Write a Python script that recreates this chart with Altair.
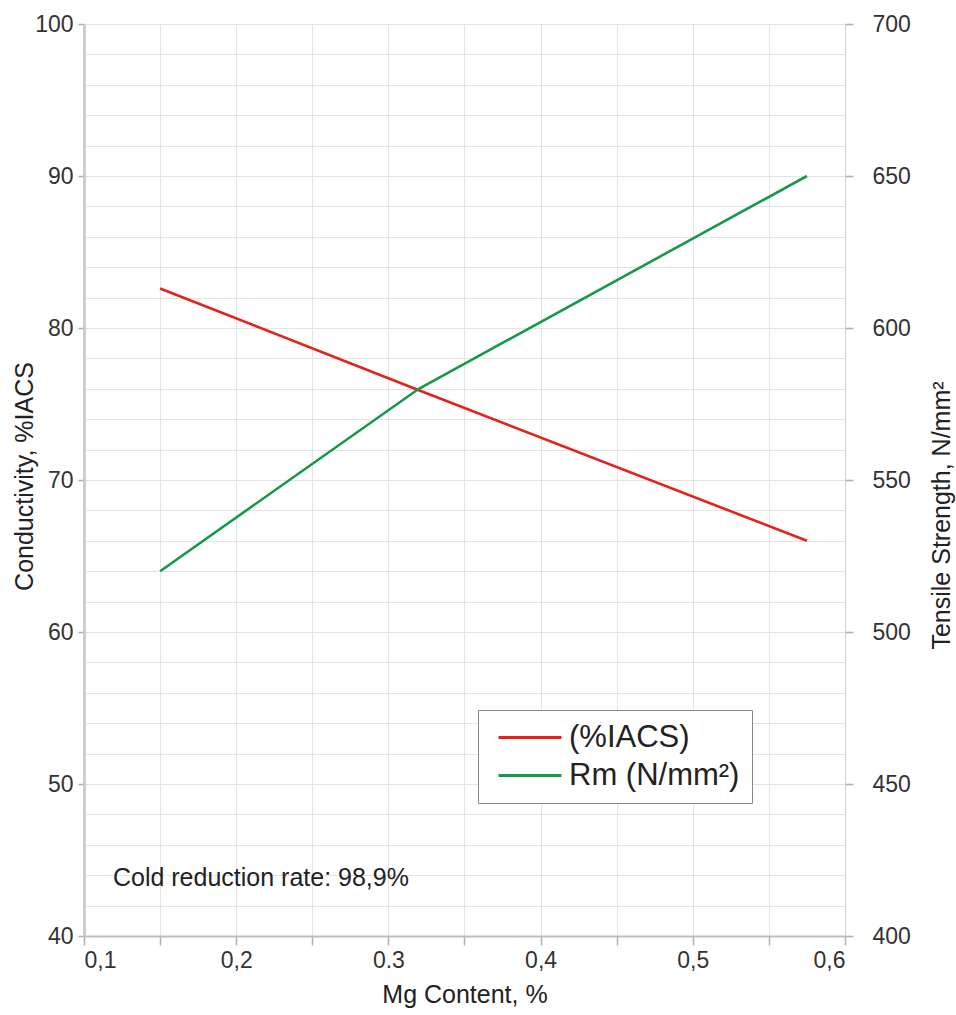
import altair as alt
import pandas as pd

# ---- data ----
mg_content = [0.15, 0.32, 0.575]
conductivity = [82.6, 75.9, 66.0]          # %IACS (left axis)
tensile = [520, 580, 650]                  # N/mm2 (right axis)
series_names = ["\u00a0\u00a0(%IACS)", "Rm (N/mm²)"]
series_colors = ["#e3231b", "#17994b"]

x_tick_values = [0.1, 0.15, 0.2, 0.25, 0.3, 0.35, 0.4, 0.45, 0.5, 0.55, 0.6]
x_label_values = [0.1, 0.2, 0.3, 0.4, 0.5, 0.6]
x_label_texts = ["0,1", "0,2", "0.3", "0,4", "0,5", "0,6"]
left_grid_values = list(range(40, 101, 2))
right_tick_values = [400, 450, 500, 550, 600, 650, 700]

note_text = ["Cold reduction rate: 98,9%"]
note_x = [0.119]
note_y = [43.8]

FONT = "Liberation Sans"
W, H = 761, 912

df_c = pd.DataFrame({"mg": mg_content, "val": conductivity, "series": series_names[0]})
df_t = pd.DataFrame({"mg": mg_content, "val": tensile, "series": series_names[1]})
df_note = pd.DataFrame({"mg": note_x, "val": note_y, "t": note_text})

label_expr = " : ".join(
    f"abs(datum.value - {v}) < 1e-6 ? '{t}'" for v, t in zip(x_label_values, x_label_texts)
) + " : ''"

x_scale = alt.Scale(domain=[0.1, 0.6], nice=False, zero=False)
x_axis = alt.Axis(
    title="Mg Content, %",
    values=x_tick_values,
    labelExpr=label_expr,
    grid=True,
    gridColor="#e4e4e4",
    gridWidth=1,
    domainColor="#bdbdbd",
    domainWidth=2,
    tickColor="#b0b0b0",
    tickSize=9,
    tickWidth=1.5,
    labelPadding=4,
    labelFontSize=23,
    labelColor="#333333",
    labelFont=FONT,
    titleFont=FONT,
    titleFontSize=25,
    titleFontWeight="normal",
    titleColor="#222222",
    titlePadding=10,
    labelOverlap=False,
)
x_enc = alt.X("mg:Q", scale=x_scale, axis=x_axis)

y_left_scale = alt.Scale(domain=[40, 100], nice=False, zero=False)
y_left_axis = alt.Axis(
    title="Conductivity, %IACS",
    values=left_grid_values,
    labelExpr="datum.value % 10 === 0 ? datum.label : ''",
    grid=True,
    gridColor="#e4e4e4",
    gridWidth=1,
    domainColor="#cdcdcd",
    domainWidth=3,
    tickColor="#b0b0b0",
    tickSize=6,
    tickWidth=1.5,
    tickOpacity={"condition": {"test": "datum.value % 10 === 0", "value": 1}, "value": 0},
    labelPadding=5,
    labelFontSize=23,
    labelFont=FONT,
    labelColor="#333333",
    titleFont=FONT,
    titleFontSize=25,
    titleFontWeight="normal",
    titleColor="#222222",
    titleAngle=270,
    titleX=-60,
    titleY=452,
    titleAlign="center",
    titleBaseline="middle",
    labelOverlap=False,
)
y_left_enc = alt.Y("val:Q", scale=y_left_scale, axis=y_left_axis)

color_enc = alt.Color(
    "series:N",
    scale=alt.Scale(domain=series_names, range=series_colors),
    legend=alt.Legend(
        title=None,
        orient="none",
        legendX=394,
        legendY=686,
        symbolType="M-0.5,0L4,0",
        symbolSize=784,
        symbolStrokeWidth=3,
        labelFontSize=31,
        labelFont=FONT,
        labelColor="#222222",
        labelOffset=48,
        labelLimit=400,
        rowPadding=6,
        padding=12,
        strokeColor="#8a8a8a",
        fillColor="white",
    ),
)

left_line = alt.Chart(df_c).mark_line(strokeWidth=2.6).encode(
    x=x_enc,
    y=y_left_enc,
    color=color_enc,
)

note = alt.Chart(df_note).mark_text(
    align="left", baseline="middle", fontSize=25, font=FONT, color="#222222"
).encode(
    x=x_enc,
    y=y_left_enc,
    text="t:N",
)

left_layer = alt.layer(left_line, note)

right_line = alt.Chart(df_t).mark_line(strokeWidth=2.6).encode(
    x=x_enc,
    y=alt.Y(
        "val:Q",
        scale=alt.Scale(domain=[400, 700], nice=False, zero=False),
        axis=alt.Axis(
            title="Tensile Strength, N/mm²",
            orient="right",
            values=right_tick_values,
            grid=False,
            ticks=True,
            domainColor="#d0d0d0",
            domainWidth=1,
            tickColor="#b0b0b0",
            tickSize=8,
            tickWidth=1.5,
            labelPadding=19,
            labelFontSize=23,
            labelFont=FONT,
            labelColor="#333333",
            labelAlign="left",
            titleFont=FONT,
            titleFontSize=25,
            titleFontWeight="normal",
            titleColor="#222222",
            titleAngle=270,
            titleX=96,
            titleY=491,
            titleAlign="center",
            titleBaseline="middle",
            labelOverlap=False,
        ),
    ),
    color=color_enc,
)

chart = (
    alt.layer(left_layer, right_line)
    .resolve_scale(y="independent")
    .properties(
        width=W,
        height=H,
        autosize=alt.AutoSizeParams(type="none"),
        padding={"left": 84, "top": 24, "right": 111, "bottom": 79},
        background="white",
    )
    .configure_view(stroke=None)
)

chart.save("out.html", embed_options={"renderer": "svg", "actions": False})
